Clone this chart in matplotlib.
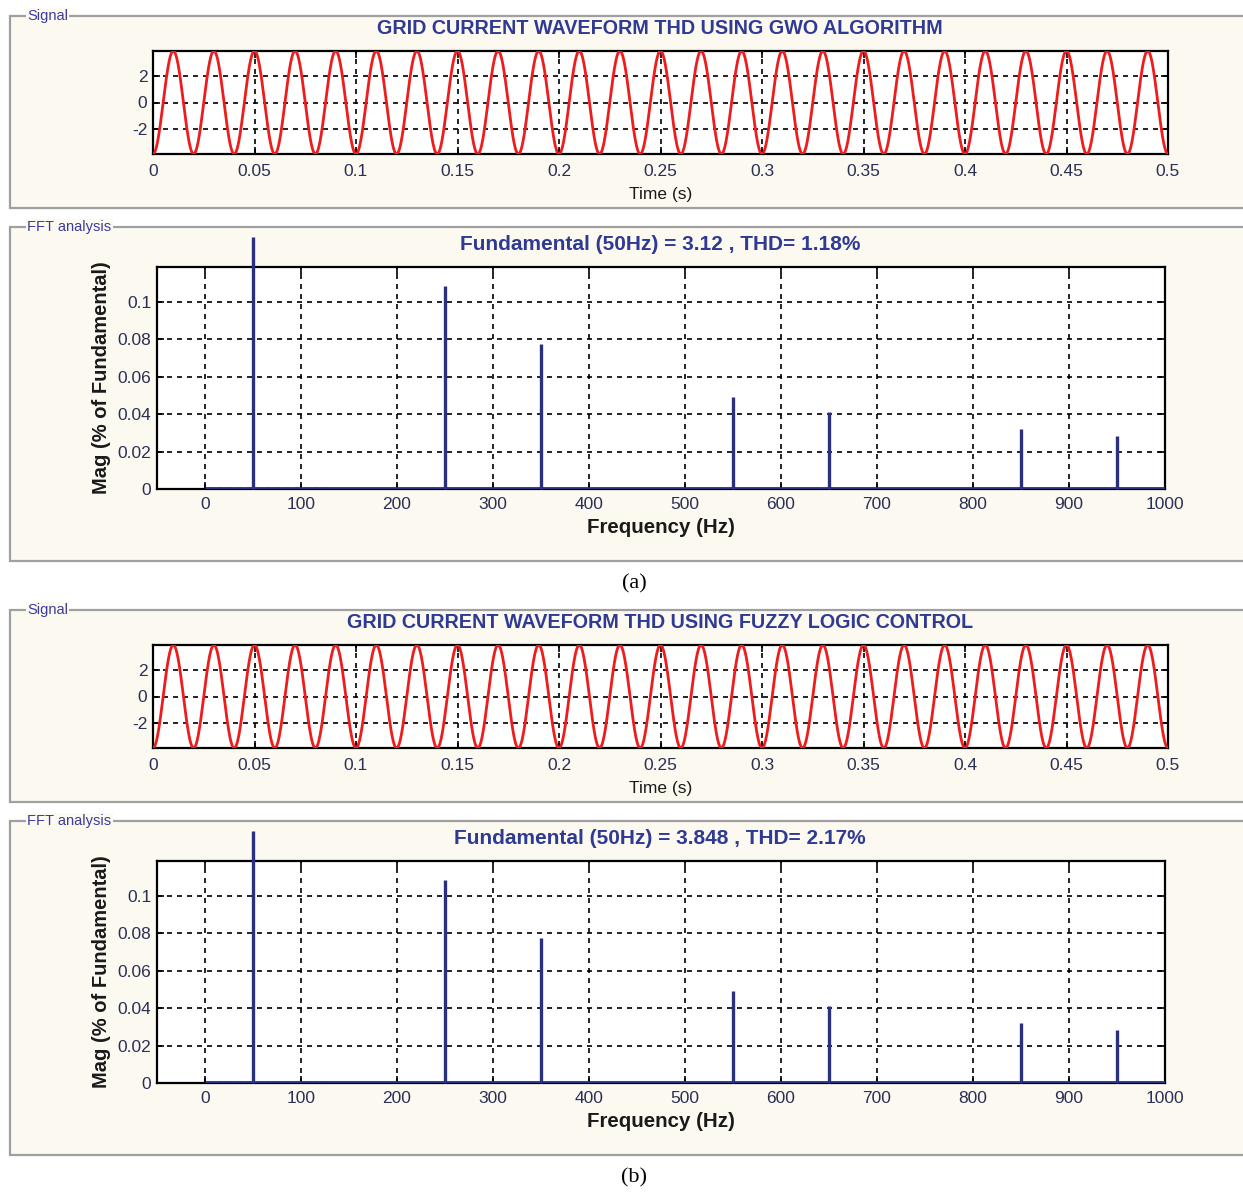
import numpy as np
import matplotlib
matplotlib.use("Agg")
import matplotlib.pyplot as plt
from matplotlib.patches import Rectangle

# ---------------- data ----------------
panel_titles = ["GRID CURRENT WAVEFORM THD USING GWO ALGORITHM",
                "GRID CURRENT WAVEFORM THD USING FUZZY LOGIC CONTROL"]
fft_titles = ["Fundamental (50Hz) = 3.12 , THD= 1.18%",
              "Fundamental (50Hz) = 3.848 , THD= 2.17%"]
captions = ["(a)", "(b)"]

# signal parameters
signal_amplitude = 3.9      # peak of the red waveform
signal_freq = 50.0          # Hz (25 cycles in 0.5 s)
signal_duration = 0.5       # s

time_ticks = [0, 0.05, 0.1, 0.15, 0.2, 0.25, 0.3, 0.35, 0.4, 0.45, 0.5]
time_ticklabels = ["0", "0.05", "0.1", "0.15", "0.2", "0.25", "0.3", "0.35", "0.4", "0.45", "0.5"]
signal_yticks = [-2, 0, 2]

# harmonic spectrum (same in both panels)
harm_freqs = [50, 250, 350, 550, 650, 850, 950]
harm_mags_a = [0.135, 0.1085, 0.0775, 0.0493, 0.0413, 0.0320, 0.0286]
harm_mags_b = [0.135, 0.1085, 0.0775, 0.0493, 0.0413, 0.0320, 0.0286]
noise_freqs = [5, 15, 25, 35, 45, 55, 65, 75, 85, 95, 105, 115, 125, 135, 150]
noise_mags = [0.0012, 0.0010, 0.0011, 0.0013, 0.0012, 0.0012, 0.0011, 0.0012,
              0.0010, 0.0011, 0.0012, 0.0010, 0.0009, 0.0008, 0.0007]

freq_ticks = [0, 100, 200, 300, 400, 500, 600, 700, 800, 900, 1000]
mag_ticks = [0, 0.02, 0.04, 0.06, 0.08, 0.1]
mag_ticklabels = ["0", "0.02", "0.04", "0.06", "0.08", "0.1"]

# ---------------- style ----------------
W, H = 1243, 1193
plt.rcParams['font.family'] = ['Liberation Sans', 'DejaVu Sans']
plt.rcParams['axes.unicode_minus'] = False
CREAM = '#fcf9f1'
FRAME = '#a0a0a0'
TITLE_BLUE = '#2e3a94'
TICK_COL = '#2a2f55'
STEM_BLUE = '#2b2f7f'
RED = '#ee1c1c'

fig = plt.figure(figsize=(W / 100, H / 100), dpi=100)
fig.patch.set_facecolor('white')


def pax(x0, y0, x1, y1):
    return fig.add_axes([x0 / W, 1 - y1 / H, (x1 - x0) / W, (y1 - y0) / H])


def frame(y0, y1, label):
    r = Rectangle((10 / W, 1 - y1 / H), (1260 - 10) / W, (y1 - y0) / H,
                  transform=fig.transFigure, facecolor=CREAM, edgecolor=FRAME,
                  linewidth=1.6, zorder=0)
    fig.add_artist(r)
    fig.text(27 / W, 1 - y0 / H, label, fontsize=10.5, color='#3a3c9a',
             ha='left', va='center',
             bbox=dict(facecolor=CREAM, edgecolor='none', pad=1.0), zorder=1)


def style_axes(ax):
    ax.set_facecolor('white')
    for s in ax.spines.values():
        s.set_linewidth(1.6)
        s.set_color('black')
    ax.grid(True, color='black', linestyle=(0, (3, 3)), linewidth=1.2)
    ax.tick_params(direction='in', length=5, width=1.2, colors='black',
                   labelcolor=TICK_COL, labelsize=12.5, top=True, right=True)
    ax.set_axisbelow(True)


offsets = [0, 594]
harm_sets = [harm_mags_a, harm_mags_b]

for i, off in enumerate(offsets):
    # frames
    frame(16 + off, 208 + off, "Signal")
    frame(227 + off, 561 + off, "FFT analysis")

    # ---- signal axes ----
    ax = pax(153, 51 + off, 1168, 154 + off)
    t = np.linspace(0, signal_duration, 5001)
    y = -signal_amplitude * np.cos(2 * np.pi * signal_freq * t)
    ax.plot(t, y, color=RED, linewidth=2.0, zorder=3)
    ax.set_xlim(0, signal_duration)
    ax.set_ylim(-signal_amplitude, signal_amplitude)
    ax.set_xticks(time_ticks)
    ax.set_xticklabels(time_ticklabels)
    ax.set_yticks(signal_yticks)
    style_axes(ax)
    ax.tick_params(axis='x', pad=7)
    ax.tick_params(axis='y', pad=4)
    ax.set_xlabel("Time (s)", fontsize=12.5, color='#1a1a1a', labelpad=6)
    fig.text(660 / W, 1 - (29 + off) / H, panel_titles[i], fontsize=14.2,
             fontweight='heavy', color=TITLE_BLUE, ha='center', va='center')

    # ---- FFT axes ----
    ax2 = pax(157, 267 + off, 1165, 489 + off)
    ax2.set_xlim(-50, 1000)
    ax2.set_ylim(0, 0.1187)
    style_axes(ax2)
    ax2.set_xticks(freq_ticks)
    ax2.set_yticks(mag_ticks)
    ax2.set_yticklabels(mag_ticklabels)
    ax2.tick_params(axis='x', pad=6)
    ax2.tick_params(axis='y', pad=4)
    ax2.hlines(0.0006, 0, 1000, color=STEM_BLUE, linewidth=2.0, zorder=3)
    ax2.vlines(noise_freqs, 0, noise_mags, color=STEM_BLUE, linewidth=2.0, zorder=3)
    ax2.vlines(harm_freqs, 0, harm_sets[i], color=STEM_BLUE, linewidth=2.4,
               zorder=4, clip_on=False)
    ax2.set_xlabel("Frequency (Hz)", fontsize=14.8, fontweight='bold',
                   color='#1a1a1a', labelpad=4)
    ax2.set_ylabel("Mag (% of Fundamental)", fontsize=14.5, fontweight='bold',
                   color='#1a1a1a', labelpad=5)
    fig.text(660 / W, 1 - (245 + off) / H, fft_titles[i], fontsize=15,
             fontweight='bold', color=TITLE_BLUE, ha='center', va='center')

    # caption
    fig.text(634 / W, 1 - (584 + off) / H, captions[i], fontsize=16,
             family='Liberation Serif', color='black', ha='center', va='center')

fig.savefig("out.png", dpi=100, facecolor='white')
